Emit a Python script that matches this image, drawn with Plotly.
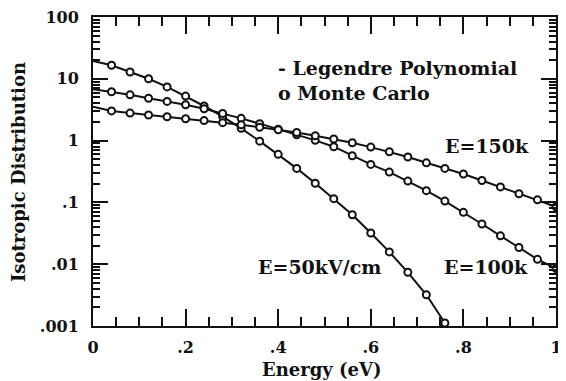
import plotly.graph_objects as go

# Energy grid (eV)
energy = [0.00, 0.04, 0.08, 0.12, 0.16, 0.20, 0.24, 0.28, 0.32, 0.36, 0.40, 0.44, 0.48,
          0.52, 0.56, 0.60, 0.64, 0.68, 0.72, 0.76, 0.80, 0.84, 0.88, 0.92, 0.96, 1.00]

# E = 50 kV/cm (line runs below the axis after 0.76)
dist_50k = [19.5, 16.6, 12.9, 10.0, 7.4, 5.25, 3.63, 2.45, 1.58, 0.98, 0.60, 0.355, 0.204,
            0.115, 0.063, 0.032, 0.0158, 0.0074, 0.0032, 0.00112, 0.0004]
# E = 100 kV/cm
dist_100k = [6.76, 6.17, 5.5, 4.84, 4.31, 3.8, 3.27, 2.75, 2.29, 1.88, 1.53, 1.245, 1.01,
             0.796, 0.569, 0.412, 0.309, 0.221, 0.155, 0.105, 0.069, 0.0447, 0.0288, 0.0186,
             0.012, 0.0085]
# E = 150 kV/cm
dist_150k = [3.55, 3.02, 2.79, 2.6, 2.43, 2.26, 2.11, 1.95, 1.80, 1.64, 1.50, 1.35, 1.20,
             1.06, 0.923, 0.785, 0.66, 0.543, 0.437, 0.355, 0.288, 0.226, 0.178, 0.138,
             0.11, 0.085]

x_tickvals = [0, 0.2, 0.4, 0.6, 0.8, 1.0]
x_ticktext = ["0", ".2", ".4", ".6", ".8", "1"]
y_tickvals = [0.001, 0.01, 0.1, 1, 10, 100]
y_ticktext = [".001", ".01", ".1", "1", "10", "100"]

FONT = "DejaVu Serif"
INK = "#111111"

fig = go.Figure()

for series in (dist_50k, dist_100k, dist_150k):
    n = len(series)
    # Legendre polynomial fit (solid line)
    fig.add_trace(go.Scatter(x=energy[:n], y=series, mode="lines",
                             line=dict(color=INK, width=2), showlegend=False,
                             hoverinfo="skip"))
    # Monte Carlo points (open circles), skipping E=0 and points off-scale
    mc_x = [e for e, v in zip(energy[1:n], series[1:n]) if v >= 0.001]
    mc_y = [v for v in series[1:n] if v >= 0.001]
    fig.add_trace(go.Scatter(x=mc_x, y=mc_y, mode="markers",
                             marker=dict(symbol="circle", size=7, color="white",
                                         line=dict(color=INK, width=2)),
                             showlegend=False))

tick_font = dict(family=FONT, size=16, color=INK, weight="bold")

# page body has an 8px default margin, so the figure is sized to fit the window
fig.update_layout(
    width=558, height=373,
    margin=dict(l=85, r=10, t=9, b=55),
    paper_bgcolor="white", plot_bgcolor="white",
    font=dict(family=FONT, color=INK),
    xaxis=dict(range=[0, 1], tickmode="array", tickvals=x_tickvals, ticktext=x_ticktext,
               ticks="inside", ticklen=17, tickwidth=2, tickcolor=INK,
               minor=dict(ticks="inside", ticklen=9, tickwidth=2, tickcolor=INK, dtick=0.05),
               showline=True, linewidth=2, linecolor=INK, mirror="allticks",
               showgrid=False, zeroline=False, tickfont=tick_font, ticklabelstandoff=6,
               ticklabeloverflow="allow", automargin=False),
    yaxis=dict(type="log", range=[-3, 2], tickmode="array", tickvals=y_tickvals,
               ticktext=y_ticktext,
               ticks="inside", ticklen=15, tickwidth=2, tickcolor=INK,
               minor=dict(ticks="inside", ticklen=7, tickwidth=1.5, tickcolor=INK, dtick="D1"),
               showline=True, linewidth=2, linecolor=INK, mirror="allticks",
               showgrid=False, zeroline=False, tickfont=tick_font, ticklabelstandoff=9,
               ticklabeloverflow="allow", automargin=False),
)

title_font = dict(family=FONT, size=18, color=INK, weight="bold")
fig.add_annotation(xref="paper", yref="paper", x=0.495, y=-0.142, text="Energy (eV)",
                   showarrow=False, xanchor="center", yanchor="middle", font=title_font)
fig.add_annotation(xref="paper", yref="paper", x=-0.162, y=0.498,
                   text="Isotropic Distribution", textangle=-90,
                   showarrow=False, xanchor="center", yanchor="middle", font=title_font)

label_font = dict(family=FONT, size=19, color=INK, weight="bold")
fig.add_annotation(x=0.395, y=1.175, text="- Legendre Polynomial", showarrow=False,
                   xanchor="left", yanchor="middle", font=label_font)
fig.add_annotation(x=0.395, y=0.77, text="o Monte Carlo", showarrow=False,
                   xanchor="left", yanchor="middle", font=label_font)
fig.add_annotation(x=0.851, y=-0.087, text="E=150k", showarrow=False, font=label_font)
fig.add_annotation(x=0.849, y=-2.045, text="E=100k", showarrow=False, font=label_font)
fig.add_annotation(x=0.49, y=-2.045, text="E=50kV/cm", showarrow=False, font=label_font)

fig.write_html("out.html")
